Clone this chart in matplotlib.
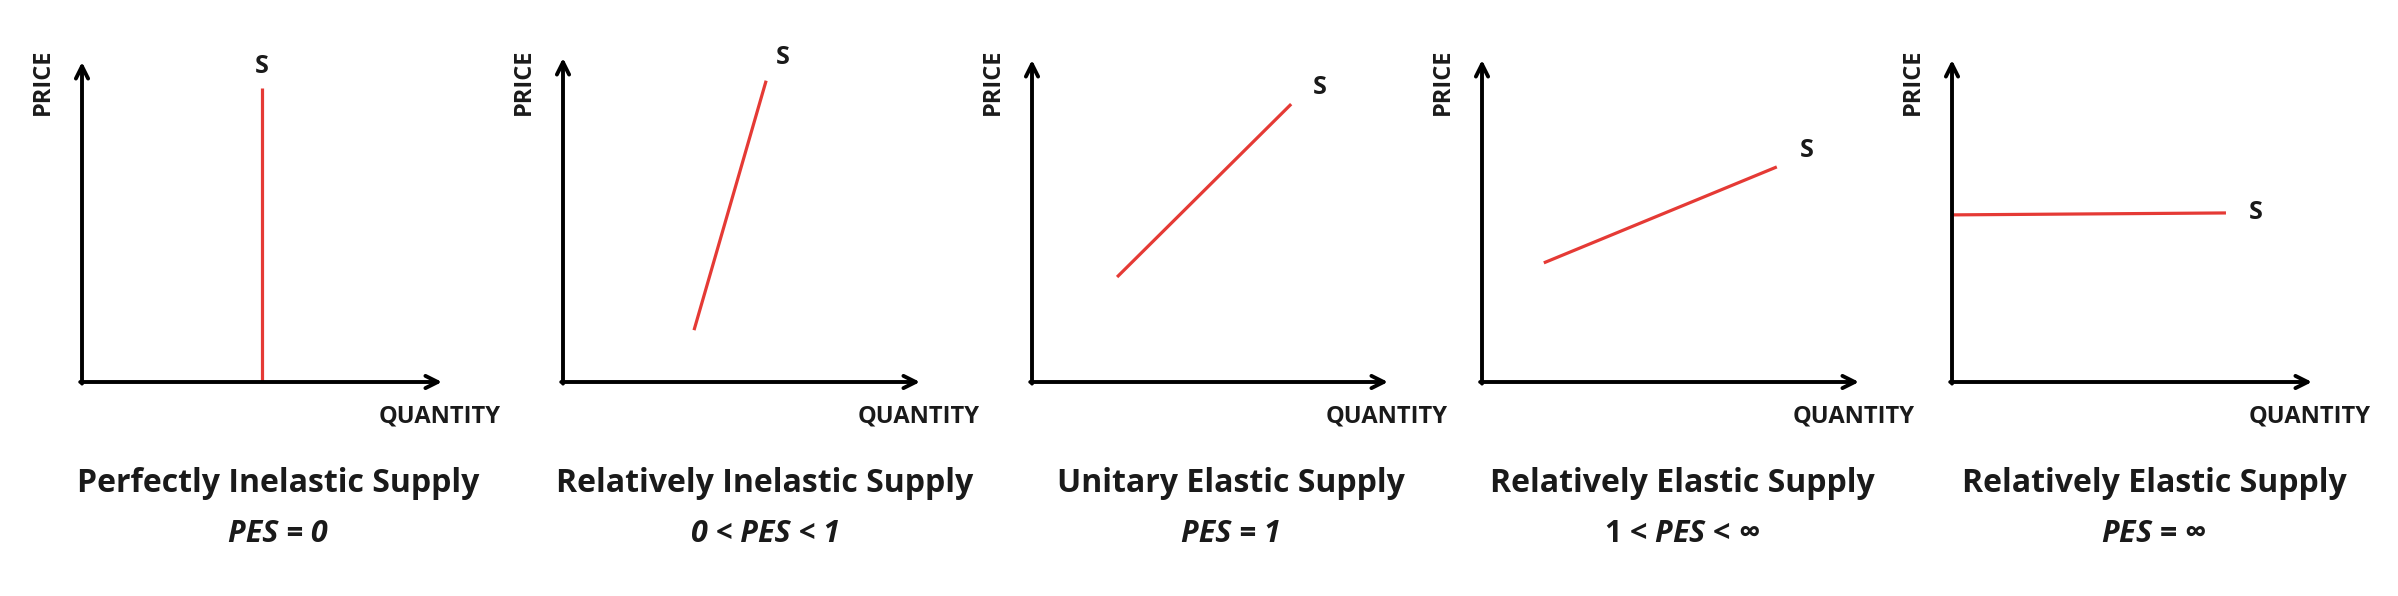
import matplotlib
matplotlib.use('Agg')
import matplotlib.pyplot as plt

plt.rcParams['font.family'] = ['Open Sans', 'DejaVu Sans']
plt.rcParams['mathtext.fontset'] = 'custom'
plt.rcParams['mathtext.it'] = 'Open Sans:italic:bold'
plt.rcParams['mathtext.rm'] = 'Open Sans:bold'

#-------------------------------------------------------------------------------------
# data (axis units 0..10 for every panel)

titles = ['Perfectly Inelastic Supply', 'Relatively Inelastic Supply',
          'Unitary Elastic Supply', 'Relatively Elastic Supply',
          'Relatively Elastic Supply']
# subtitles: (text, all italic?)
subtitles = [('PES = 0', True), ('0 < PES < 1', True), ('PES = 1', True),
             (r'1 < $\mathit{PES}$ < ∞', False), (r'$\mathit{PES}$ = ∞', False)]

supply_x = [[5.0, 5.0], [3.67, 5.69], [2.39, 7.28], [1.64, 7.82], [0.0, 7.61]]
supply_y = [[0.0, 9.2], [1.6, 9.3], [3.26, 8.63], [3.7, 6.68], [5.19, 5.25]]
s_label = [(5.0, 9.85), (6.16, 10.0), (8.09, 9.16), (8.62, 7.2), (8.44, 5.25)]

#-------------------------------------------------------------------------------------
# layout in pixels: (origin x, arrow end x, arrow top y), x axis at y=382
W, H = 2398, 596
panels = [(82, 442, 62), (563, 920, 58), (1032, 1388, 60), (1482, 1859, 60), (1952, 2312, 60)]
title_x = [278, 765, 1231, 1682, 2154]
axis_y = 382
red = '#e53a35'
ink = '#1a1a1a'

fig = plt.figure(figsize=(W/100, H/100), dpi=100)

for i, (x0, x1, ytop) in enumerate(panels):
    ax = fig.add_axes([x0/W, 1 - axis_y/H, (x1 - x0)/W, (axis_y - ytop)/H])
    ax.set_xlim(0, 10)
    ax.set_ylim(0, 10)
    ax.axis('off')

    # arrowed axes
    for end in [(10, 0), (0, 10)]:
        start = (-0.05, 0) if end[1] == 0 else (0, -0.05)
        ax.annotate('', xy=end, xytext=start,
                    arrowprops=dict(arrowstyle='->', lw=2.8, color='black',
                                    mutation_scale=22, shrinkA=0, shrinkB=0),
                    annotation_clip=False)

    ax.plot(supply_x[i], supply_y[i], color=red, lw=2.3, solid_capstyle='butt',
            clip_on=False, zorder=1)
    ax.text(s_label[i][0], s_label[i][1], 'S', fontsize=18, fontweight='bold',
            ha='center', va='center', color=ink)

    ax.text(-39/(x1 - x0)*10, 300/(axis_y - ytop)*10, 'PRICE', rotation=90,
            fontsize=17, fontweight='bold', ha='center', va='center', color=ink)
    ax.text(8.25, -35/(axis_y - ytop)*10, 'QUANTITY', fontsize=17, fontweight='bold',
            ha='left', va='center', color=ink)

    fig.text(title_x[i]/W, 1 - 483/H, titles[i], fontsize=23, fontweight='bold',
             ha='center', va='center', color=ink)
    sub, all_it = subtitles[i]
    fig.text(title_x[i]/W, 1 - 534/H, sub, fontsize=22, fontweight='bold',
             fontstyle='italic' if all_it else 'normal',
             ha='center', va='center', color=ink)

plt.savefig('out.png', dpi=100)
